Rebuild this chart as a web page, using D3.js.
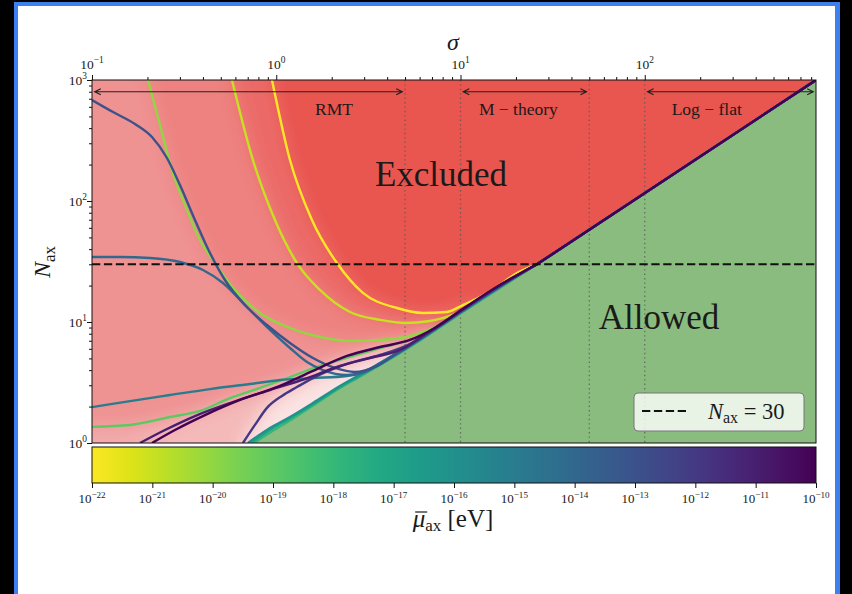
<!DOCTYPE html>
<html>
<head>
<meta charset="utf-8">
<script src="https://cdn.jsdelivr.net/npm/d3@7"></script>
<style>
  html, body { margin: 0; padding: 0; background: #000; }
  svg { display: block; }
  text { font-family: "Liberation Serif", "DejaVu Serif", serif; fill: #1a1a1a; }
</style>
</head>
<body>
<svg id="chart" width="852" height="594"></svg>
<script>
// ---------------- data ----------------
const sigmaDomain = [0.1, 850];
const nDomain = [1, 1000];
const muDomain = [1e-22, 1e-10];

const sigmaTicks = [0.1, 1, 10, 100];
const sigmaTickExps = ["\u22121", "0", "1", "2"];
const nTicks = [1, 10, 100, 1000];
const nTickExps = ["0", "1", "2", "3"];
const muTicks = [1e-22, 1e-21, 1e-20, 1e-19, 1e-18, 1e-17, 1e-16, 1e-15, 1e-14, 1e-13, 1e-12, 1e-11, 1e-10];
const muTickExps = ["\u221222", "\u221221", "\u221220", "\u221219", "\u221218", "\u221217", "\u221216",
                    "\u221215", "\u221214", "\u221213", "\u221212", "\u221211", "\u221210"];

// reference line and regimes in sigma
const nLimit = 30;
const regimeEdges = [5, 10, 50, 100];
const regimeNames = ["RMT", "M \u2212 theory", "Log \u2212 flat"];
const regimeFrom = [0.1, 10, 100];
const regimeTo = [5, 50, 850];
const regimeLabelSigma = [2.06, 20.6, 217];
const regimeArrowN = 800;
const regimeLabelN = 515;

// upper edge of the allowed region (sigma, N)
const allowedSigma = [0.75, 1.19, 1.96, 2.95, 4.52, 6.82, 10.3, 16.4, 26, 850];
const allowedN = [1, 1.55, 2.59, 3.65, 5.34, 7.96, 12.1, 19.1, 30, 1000];

// common high-sigma ridge every bound runs into
const ridge = [[26, 30], [850, 1000]];

// exclusion bounds, one per mean axion mass (eV)
const curveMu = [1e-22, 1e-21, 1e-20, 1e-19, 1e-18, 1e-17, 1e-16, 1e-15, 1e-14, 1e-13, 1e-12, 1e-11, 1e-10];
const bound22 = [[0.948,1000],[1.187,218],[1.562,69.7],[2.135,30.7],[2.954,17.4],[4.518,13.05],[6.252,11.87],[8.437,12.1],[10.3,13.8],[12.74,16.1],[15.76,19.5],[20.23,25.4]];
const bound21 = [[0.575,1000],[0.747,218],[0.984,69.7],[1.295,30.7],[1.726,18.4],[2.512,12.1],[3.654,10.4],[4.992,9.81],[6.823,10.19],[8.76,11.21],[10.56,12.81],[13.57,16.72],[18.54,21.82]];
const bound20 = [[0.2013,1000],[0.2339,425],[0.2716,180],[0.3196,92.7],[0.3855,47.6],[0.465,30.7],[0.5969,18.4],[0.8159,11.87],[1.187,8.92],[1.726,7.52],[2.512,6.97],[3.654,7.10],[5.314,7.66],[7.262,9.09],[9.325,11.43],[11.97,14.63],[16.36,19.47]];
const bound19 = [[0.1,1.36],[0.1608,1.41],[0.265,1.64],[0.3855,1.84],[0.5608,2.35],[0.8159,2.85],[1.187,3.51],[1.726,4.33],[2.512,5.14],[3.654,6.10],[5.314,7.10],[7.731,9.45],[10.3,12.57],[16.36,19.84]];
const bound18 = [[0.7568,1],[0.9717,1.28],[1.247,1.61],[1.663,2.14],[2.216,2.85],[2.954,3.65],[4.518,5.34],[6.823,7.96],[10.3,12.10],[16.36,19.10]];
const bound17 = [[0.7289,1],[0.9477,1.31],[1.217,1.64],[1.622,2.14],[2.216,2.90],[2.954,3.72],[4.518,5.44],[6.823,8.11],[10.3,12.33],[16.36,19.47]];
const bound16 = [[0.7021,1],[0.9243,1.33],[1.187,1.64],[1.582,2.14],[2.216,2.96],[2.954,3.79],[4.518,5.54],[6.823,8.27],[10.3,12.57],[16.36,19.84]];
const bound15 = [[0.1,1.98],[0.1608,2.22],[0.265,2.49],[0.4368,2.79],[0.7199,3.07],[1.047,3.32],[1.582,3.44],[2.419,3.58],[2.954,3.86],[3.654,4.58],[4.518,5.54],[6.823,8.27],[10.3,12.57],[16.36,19.84]];
const bound14 = [[0.1,34.45],[0.1419,34.45],[0.2064,33.81],[0.3002,31.32],[0.4002,26.9],[0.5139,21.01],[0.6934,13.3],[0.9243,8.59],[1.187,6.10],[1.468,4.67],[1.792,4.01],[2.419,3.65],[3.029,3.86],[3.654,4.50],[4.518,5.44],[6.823,8.11],[10.3,12.33],[16.36,19.47]];
const bound13 = [[0.1,683.6],[0.130,543.9],[0.1711,432.9],[0.2116,338],[0.2552,226.7],[0.3002,135.6],[0.3621,69.7],[0.4368,37.18],[0.5267,22.24],[0.6763,13.82],[0.8903,9.45],[1.187,6.71],[1.582,5.04],[2.083,4.17],[2.673,3.86],[3.432,4.25],[4.518,5.54],[6.823,8.27],[10.3,12.57],[16.36,19.84]];
const bound12 = [[0.6597,1],[0.7663,1.41],[0.8903,1.95],[1.074,2.45],[1.295,2.90],[1.582,3.44],[2.419,4.50],[3.654,5.34],[5.314,6.58],[7.731,9.45],[11.25,13.82],[16.36,19.84]];
const bound11 = [[0.1822,1],[0.2489,1.28],[0.3621,1.67],[0.5608,2.14],[0.9243,2.74],[1.431,3.38],[2.216,4.33],[3.225,5.04],[4.691,5.87],[6.823,8.43],[10.3,12.81],[16.36,20.22]];
const bound10 = [[0.2116,1],[0.282,1.28],[0.4103,1.70],[0.6353,2.27],[1.047,2.96],[1.582,3.94],[2.419,5.24],[3.654,6.21],[5.314,7.10],[7.262,8.92],[10.3,12.81],[16.36,20.22]];
const bounds = [bound22, bound21, bound20, bound19, bound18, bound17, bound16, bound15, bound14, bound13, bound12, bound11, bound10];

// ---------------- layout & styles ----------------
const W = 852, H = 594;
const plotL = 92, plotR = 816, plotT = 80, plotB = 443;
const cbT = 447, cbB = 483;

// red shading stacked under the bounds (lightest first)
const shadeBase = "#F4B9B9";
const paleMu = 1e-12, paleColor = "#FBE3E3";
const shadeOrder = [1e-11, 1e-19, 1e-20, 1e-21, 1e-22];
const shadeColor = ["#F2AAAA", "#EF9292", "#ED8280", "#EB6B67", "#E9544F"];
const allowedColor = "#8BBC7F";

const svg = d3.select("#chart");

// page frame
svg.append("rect").attr("width", W).attr("height", H).attr("fill", "#000");
svg.append("rect").attr("x", 14).attr("y", 2).attr("width", 826).attr("height", 620).attr("fill", "#3D80F0");
svg.append("rect").attr("x", 18).attr("y", 6).attr("width", 817).attr("height", 620).attr("fill", "#fff");

const x = d3.scaleLog().domain(sigmaDomain).range([plotL, plotR]);
const y = d3.scaleLog().domain(nDomain).range([plotB, plotT]);
const muColor = d3.scaleSequentialLog(t => d3.interpolateViridis(1 - t)).domain(muDomain);
const muX = d3.scaleLog().domain(muDomain).range([plotL, plotR]);

const defs = svg.append("defs");
defs.append("clipPath").attr("id", "plotClip")
  .append("rect").attr("x", plotL).attr("y", plotT)
  .attr("width", plotR - plotL).attr("height", plotB - plotT);
const soften = defs.append("filter").attr("id", "soften")
  .attr("x", "-20%").attr("y", "-20%").attr("width", "140%").attr("height", "140%");
soften.append("feGaussianBlur").attr("stdDeviation", 9);

const grad = defs.append("linearGradient").attr("id", "muGrad")
  .attr("x1", "0%").attr("x2", "100%").attr("y1", "0%").attr("y2", "0%");
d3.range(0, 1.0001, 0.05).forEach(t => {
  grad.append("stop").attr("offset", (t * 100) + "%").attr("stop-color", d3.interpolateViridis(1 - t));
});

const plot = svg.append("g").attr("clip-path", "url(#plotClip)");

// pixel outline of the allowed region's upper edge
const edgePx = allowedSigma.map((s, i) => [x(s), y(allowedN[i])]);
function edgeYAt(px) {
  if (px <= edgePx[0][0]) return plotB;
  for (let i = 1; i < edgePx.length; i++) {
    if (px <= edgePx[i][0]) {
      const [x0, y0] = edgePx[i - 1], [x1, y1] = edgePx[i];
      return y0 + (y1 - y0) * (px - x0) / (x1 - x0);
    }
  }
  return plotT;
}
// index where a bound settles onto the allowed edge
function joinIndex(P) {
  for (let i = 0; i < P.length; i++) {
    if (P[i][0] >= 330 && edgeYAt(P[i][0]) - P[i][1] < 6) return i;
  }
  return P.length - 1;
}

const pad = 60;
const L = plotL - pad, R = plotR + pad, T = plotT - pad, B = plotB + pad;
function abovePolygon(pts) {
  const P = pts.map(([s, n]) => [x(s), y(n)]);
  const j = joinIndex(P);
  const [x0, y0] = P[0];
  let pre;
  if (Math.abs(y0 - plotT) < 1) pre = [[x0, T]];
  else if (Math.abs(x0 - plotL) < 1) pre = [[L, y0]];
  else pre = [[L, B], [x0, B]];
  return [...pre, ...P.slice(0, j + 1), [P[j][0], B], [R, B], [R, T], [L, T]];
}
function belowPolygon(pts) {
  const P = pts.map(([s, n]) => [x(s), y(n)]);
  const j = joinIndex(P);
  return [[P[0][0], B], ...P.slice(0, j + 1), [P[j][0], B]];
}
const toPoints = poly => poly.map(p => p.join(",")).join(" ");

const shade = plot.append("g").attr("filter", "url(#soften)");
shade.append("rect")
  .attr("x", L).attr("y", T).attr("width", R - L).attr("height", B - T)
  .attr("fill", shadeBase);
shade.append("polygon")
  .attr("points", toPoints(belowPolygon(bounds[curveMu.indexOf(paleMu)])))
  .attr("fill", paleColor);
shadeOrder.forEach((mu, i) => {
  shade.append("polygon")
    .attr("points", toPoints(abovePolygon(bounds[curveMu.indexOf(mu)])))
    .attr("fill", shadeColor[i]);
});

// allowed region
const allowedPoly = edgePx.concat([[plotR + 10, plotT], [plotR + 10, plotB + 10], [edgePx[0][0], plotB + 10]]);
plot.append("polygon").attr("points", toPoints(allowedPoly)).attr("fill", allowedColor);

// regime boundaries
plot.selectAll("line.edge").data(regimeEdges).join("line")
  .attr("class", "edge")
  .attr("x1", d => x(d)).attr("x2", d => x(d))
  .attr("y1", plotT).attr("y2", plotB)
  .attr("stroke", "#555").attr("stroke-width", 1.3)
  .attr("stroke-dasharray", "1.4,3").attr("opacity", 0.75);

// bounds coloured by mean mass; all share the straight ridge
const line = d3.line().x(d => x(d[0])).y(d => y(d[1])).curve(d3.curveMonotoneX);
bounds.forEach((pts, i) => {
  const d = line(pts.concat([ridge[0]])) + `L${x(ridge[1][0])},${y(ridge[1][1])}`;
  plot.append("path")
    .attr("d", d)
    .attr("fill", "none")
    .attr("stroke", muColor(curveMu[i]))
    .attr("stroke-width", 2.4)
    .attr("stroke-linejoin", "round");
});

// N_ax = 30
plot.append("line")
  .attr("x1", plotL).attr("x2", plotR)
  .attr("y1", y(nLimit)).attr("y2", y(nLimit))
  .attr("stroke", "#111").attr("stroke-width", 1.8)
  .attr("stroke-dasharray", "8.3,3.6");

// regime arrows
const shrink = 2.8, headL = 6, headW = 3;
regimeNames.forEach((name, i) => {
  const ya = y(regimeArrowN);
  const xa = x(regimeFrom[i]) + shrink, xb = x(regimeTo[i]) - shrink;
  plot.append("path")
    .attr("d", `M${xa},${ya}H${xb}` +
      `M${xa + headL},${ya - headW}L${xa},${ya}L${xa + headL},${ya + headW}` +
      `M${xb - headL},${ya - headW}L${xb},${ya}L${xb - headL},${ya + headW}`)
    .attr("fill", "none").attr("stroke", "#222").attr("stroke-width", 1.2);
  plot.append("text")
    .attr("x", x(regimeLabelSigma[i])).attr("y", y(regimeLabelN))
    .attr("text-anchor", "middle").attr("font-size", 17.5)
    .text(name);
});

// region names
svg.append("text").attr("x", 441).attr("y", 186).attr("text-anchor", "middle")
  .attr("font-size", 35).text("Excluded");
svg.append("text").attr("x", 659).attr("y", 329).attr("text-anchor", "middle")
  .attr("font-size", 35).text("Allowed");

// legend
const leg = svg.append("g");
leg.append("rect").attr("x", 634).attr("y", 393).attr("width", 170).attr("height", 38)
  .attr("rx", 4).attr("fill", "rgba(255,255,255,0.8)").attr("stroke", "#777").attr("stroke-width", 1);
leg.append("line").attr("x1", 642).attr("x2", 689).attr("y1", 411).attr("y2", 411)
  .attr("stroke", "#111").attr("stroke-width", 1.8).attr("stroke-dasharray", "8.3,3.6");
const legText = leg.append("text").attr("x", 708).attr("y", 419).attr("font-size", 22.5);
legText.append("tspan").attr("font-style", "italic").text("N");
legText.append("tspan").attr("font-size", 16).attr("dy", 4).text("ax");
legText.append("tspan").attr("dy", -4).text(" = " + nLimit);

// plot frame
svg.append("rect").attr("x", plotL).attr("y", plotT)
  .attr("width", plotR - plotL).attr("height", plotB - plotT)
  .attr("fill", "none").attr("stroke", "#111").attr("stroke-width", 1);

// axes
function powerText(sel, exp, fs) {
  sel.append("tspan").text("10");
  sel.append("tspan").attr("font-size", fs * 0.7).attr("dy", -fs * 0.42).text(exp);
}
const decadeMinors = (lo, hi) => d3.range(Math.log10(lo), Math.log10(hi))
  .flatMap(e => d3.range(2, 10).map(m => m * Math.pow(10, e)));

const topAxis = svg.append("g").attr("transform", `translate(0,${plotT})`)
  .call(d3.axisTop(x).tickValues(sigmaTicks).tickSize(5).tickFormat(() => ""));
topAxis.append("g").call(d3.axisTop(x)
  .tickValues(decadeMinors(0.1, 1000).filter(v => v < sigmaDomain[1])).tickSize(3).tickFormat(() => ""));
topAxis.selectAll(".domain").remove();
topAxis.selectAll("line").attr("stroke", "#111");
sigmaTicks.forEach((v, i) => {
  const t = svg.append("text").attr("x", x(v)).attr("y", 69)
    .attr("text-anchor", "middle").attr("font-size", 13.5);
  powerText(t, sigmaTickExps[i], 13.5);
});

const leftAxis = svg.append("g").attr("transform", `translate(${plotL},0)`)
  .call(d3.axisLeft(y).tickValues(nTicks).tickSize(5).tickFormat(() => ""));
leftAxis.append("g").call(d3.axisLeft(y)
  .tickValues(decadeMinors(1, 1000)).tickSize(3).tickFormat(() => ""));
leftAxis.selectAll(".domain").remove();
leftAxis.selectAll("line").attr("stroke", "#111");
nTicks.forEach((v, i) => {
  const t = svg.append("text").attr("x", 87).attr("y", y(v) + 5)
    .attr("text-anchor", "end").attr("font-size", 13.5);
  powerText(t, nTickExps[i], 13.5);
});

// axis titles
svg.append("text").attr("x", 453).attr("y", 50).attr("text-anchor", "middle")
  .attr("font-size", 24).attr("font-style", "italic").text("\u03C3");
const yTitle = svg.append("text").attr("transform", "translate(50,262) rotate(-90)")
  .attr("text-anchor", "middle").attr("font-size", 24);
yTitle.append("tspan").attr("font-style", "italic").text("N");
yTitle.append("tspan").attr("font-size", 17).attr("dy", 5).text("ax");

// colour bar
svg.append("rect").attr("x", plotL).attr("y", cbT)
  .attr("width", plotR - plotL).attr("height", cbB - cbT)
  .attr("fill", "url(#muGrad)").attr("stroke", "#111").attr("stroke-width", 1);
const cbAxis = svg.append("g").attr("transform", `translate(0,${cbB})`)
  .call(d3.axisBottom(muX).tickValues(muTicks).tickSize(5).tickFormat(() => ""));
cbAxis.select(".domain").remove();
cbAxis.selectAll("line").attr("stroke", "#111");
muTicks.forEach((v, i) => {
  const t = svg.append("text").attr("x", muX(v)).attr("y", 503)
    .attr("text-anchor", "middle").attr("font-size", 13);
  powerText(t, muTickExps[i], 13);
});
const cbTitle = svg.append("text").attr("x", 453).attr("y", 527)
  .attr("text-anchor", "middle").attr("font-size", 25);
cbTitle.append("tspan").attr("font-style", "italic").text("\u03BC");
cbTitle.append("tspan").attr("font-size", 17).attr("dy", 4).text("ax");
cbTitle.append("tspan").attr("dy", -4).text(" [eV]");
// bar over the mu
const cbNode = cbTitle.node();
const muStart = cbNode.getStartPositionOfChar(0), muEnd = cbNode.getEndPositionOfChar(0);
svg.append("line")
  .attr("x1", muStart.x + 2.5).attr("x2", muEnd.x + 2)
  .attr("y1", 527 - 15).attr("y2", 527 - 15)
  .attr("stroke", "#1a1a1a").attr("stroke-width", 1.2);
</script>
</body>
</html>
